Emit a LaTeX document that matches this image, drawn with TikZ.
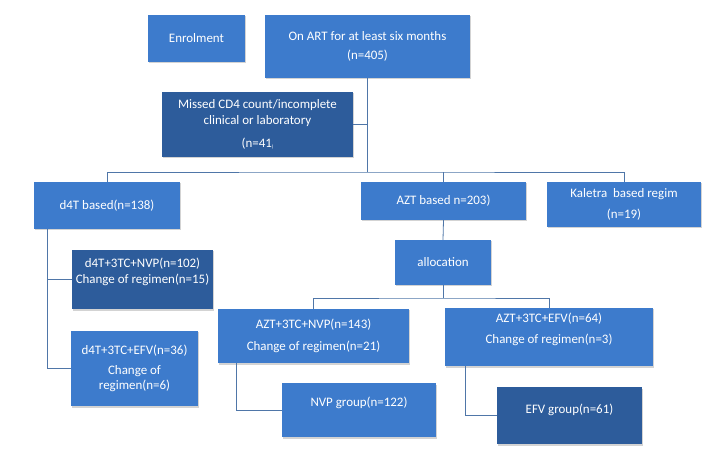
\documentclass[tikz,border=0pt]{standalone}
\usepackage{fontspec}
\setsansfont{Carlito}
\usetikzlibrary{calc,shadows}

\definecolor{boxblue}{HTML}{3D7BCC}
\definecolor{boxdark}{HTML}{2D5C9B}
\definecolor{linkblue}{HTML}{4F76A8}

\begin{document}
\begin{tikzpicture}[x=1bp,y=-1bp,
  font=\sffamily\fontsize{13}{15.5}\selectfont,
  box/.style={fill=boxblue,text=white,align=center,inner sep=1mm,
              drop shadow={shadow xshift=1.2bp,shadow yshift=-1.5bp,opacity=.35}},
  darkbox/.style={box,fill=boxdark},
  link/.style={draw=linkblue,line width=.8pt}]
\useasboundingbox (0,0) rectangle (720,464);

% enrolment row
\node[box,minimum width=97bp,minimum height=47bp] (enrol) at (196.5,38.5) {Enrolment};
\node[box,minimum width=205bp,minimum height=63bp] (art) at (367.5,46.5)
  {On ART for at least six months\\[4pt](n=405)};
\node[darkbox,minimum width=191bp,minimum height=65bp] (missed) at (257.5,124.5)
  {Missed CD4 count/incomplete\\clinical or laboratory\\[8pt](n=41\raisebox{-1pt}{\tiny)}};

% regimen groups
\node[box,minimum width=146bp,minimum height=47bp] (d4t) at (107,205.5) {d4T based(n=138)};
\node[box,minimum width=165bp,minimum height=38bp] (azt) at (443.5,201) {AZT based n=203)};
\node[box,minimum width=154bp,minimum height=45bp] (kal) at (624,204.5)
  {Kaletra\ \ based regim\\[5pt](n=19)};
\coordinate (split) at (367.5,172);
\draw[link] (art.south) -- (split);
\draw[link] (missed.east) -- (missed.east -| split);
\draw[link] (d4t.north) |- (split) -| (kal.north);
\draw[link] (azt.north) -- (azt.north |- split);

% d4T branch
\node[darkbox,minimum width=141bp,minimum height=59bp] (d4tnvp) at (142.5,279.5)
  {d4T+3TC+NVP(n=102)\\Change of regimen(n=15)\\[2pt]\mbox{}};
\node[box,minimum width=127bp,minimum height=75bp] (d4tefv) at (134.5,368.5)
  {d4T+3TC+EFV(n=36)\\[4pt]Change of\\regimen(n=6)};
\draw[link] ($(d4t.south west)+(14,0)$) |- (d4tnvp.west);
\draw[link] ($(d4t.south west)+(14,0)$) |- (d4tefv.west);

% AZT branch
\node[box,minimum width=96bp,minimum height=45bp] (alloc) at (443,262.5) {allocation};
\draw[link] (azt.south) -- (alloc.north);
\node[box,minimum width=191bp,minimum height=54bp] (aztnvp) at (313.5,336)
  {AZT+3TC+NVP(n=143)\\[6pt]Change of regimen(n=21)};
\node[box,minimum width=208bp,minimum height=58bp] (aztefv) at (549,337)
  {AZT+3TC+EFV(n=64)\\[6pt]Change of regimen(n=3)\\[2pt]\mbox{}};
\coordinate (split2) at (443,298);
\draw[link] (alloc.south) -- (split2);
\draw[link] (aztnvp.north) |- (split2) -| (aztefv.north);

\node[box,minimum width=154bp,minimum height=54bp] (nvpgrp) at (359,410)
  {NVP group(n=122)\\[2pt]\mbox{}};
\node[darkbox,minimum width=145bp,minimum height=57bp] (efvgrp) at (569.5,415.5)
  {EFV group(n=61)\\[-2pt]\mbox{}};
\draw[link] ($(aztnvp.south west)+(19,0)$) |- (nvpgrp.west);
\draw[link] ($(aztefv.south west)+(21,0)$) |- (efvgrp.west);
\end{tikzpicture}
\end{document}
